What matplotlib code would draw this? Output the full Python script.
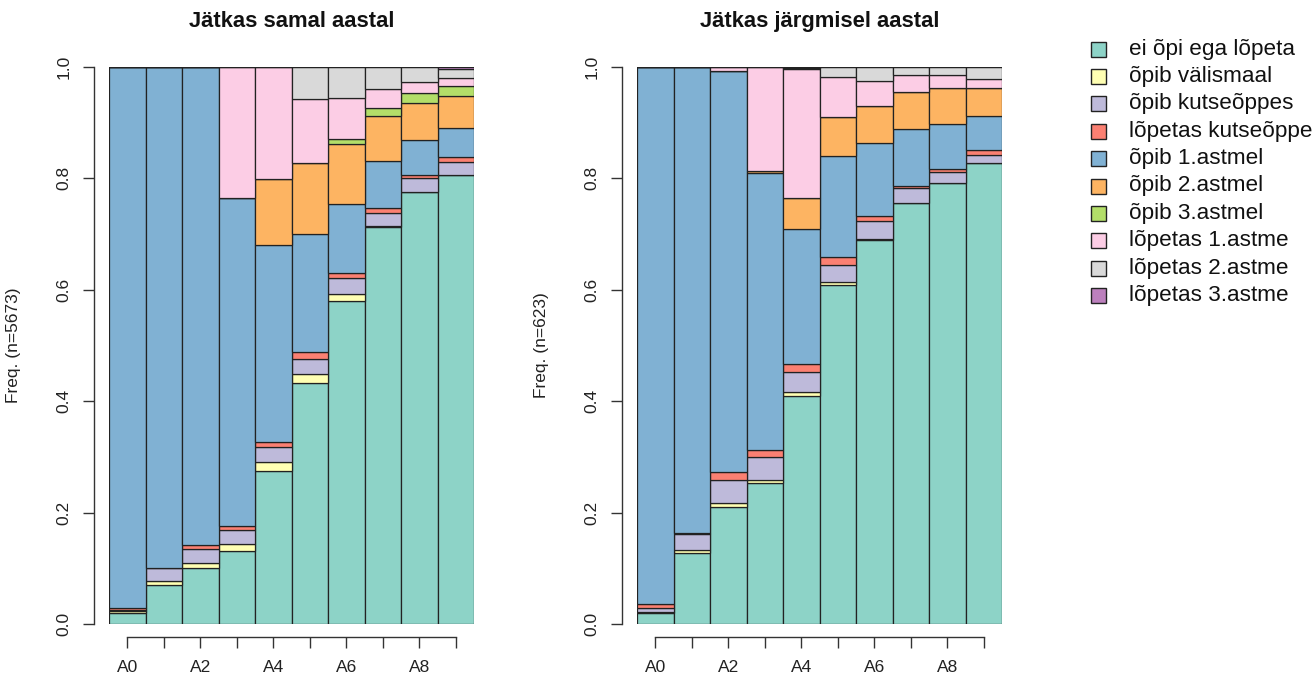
import matplotlib
matplotlib.use("Agg")
import matplotlib.pyplot as plt
from matplotlib.patches import Rectangle
import numpy as np

plt.rcParams['font.family'] = ['Liberation Sans', 'DejaVu Sans']

years = ["A0", "A1", "A2", "A3", "A4", "A5", "A6", "A7", "A8", "A9"]
shown_labels = ["A0", "", "A2", "", "A4", "", "A6", "", "A8", ""]
categories = ["ei õpi ega lõpeta", "õpib välismaal", "õpib kutseõppes",
              "lõpetas kutseõppe", "õpib 1.astmel", "õpib 2.astmel",
              "õpib 3.astmel", "lõpetas 1.astme", "lõpetas 2.astme",
              "lõpetas 3.astme"]
colors = ["#8DD3C7", "#FFFFB3", "#BEBADA", "#FB8072", "#80B1D3",
          "#FDB462", "#B3DE69", "#FCCDE5", "#D9D9D9", "#BC80BD"]

# Left panel: "Jätkas samal aastal" (n=5673)
same_teal   = [.020, .070, .100, .131, .275, .432, .579, .713, .776, .806]
same_yellow = [.003, .008, .009, .013, .015, .016, .014, .001, .000, .001]
same_purple = [.003, .022, .026, .024, .027, .028, .029, .023, .024, .023]
same_red    = [.002, .001, .006, .008, .009, .012, .009, .010, .006, .009]
same_blue   = [.972, .899, .859, .588, .354, .212, .123, .084, .063, .052]
same_orange = [0, 0, 0, 0, .119, .127, .107, .081, .067, .057]
same_green  = [0, 0, 0, 0, 0, 0, .010, .014, .017, .018]
same_pink   = [0, 0, 0, .236, .201, .115, .073, .034, .020, .014]
same_gray   = [0, 0, 0, 0, 0, .058, .056, .040, .027, .017]
same_violet = [0, 0, 0, 0, 0, 0, 0, 0, 0, .003]

# Right panel: "Jätkas järgmisel aastal" (n=623)
next_teal   = [.019, .127, .2095, .2526, .410, .609, .690, .755, .791, .828]
next_yellow = [.002, .006, .0085, .006, .007, .005, .001, .001, .001, 0]
next_purple = [.007, .029, .0405, .041, .036, .030, .0325, .026, .019, .0146]
next_red    = [.008, .002, .015, .012, .013, .015, .0095, .004, .006, .0084]
next_blue   = [.964, .836, .720, .498, .243, .182, .130, .103, .081, .061]
next_orange = [0, 0, 0, .003, .055, .069, .067, .0655, .0643, .0497]
next_green  = [0, 0, 0, 0, 0, 0, 0, 0, 0, 0]
next_pink   = [0, 0, .007, .1874, .232, .0717, .0455, .031, .0236, .0168]
next_gray   = [0, 0, 0, 0, .002, .0185, .0245, .0144, .0144, .0215]
next_violet = [0, 0, 0, 0, .002, 0, 0, 0, 0, 0]

same = [same_teal, same_yellow, same_purple, same_red, same_blue,
        same_orange, same_green, same_pink, same_gray, same_violet]
nxt = [next_teal, next_yellow, next_purple, next_red, next_blue,
       next_orange, next_green, next_pink, next_gray, next_violet]

W, H = 1315, 676
fig = plt.figure(figsize=(W / 100, H / 100), dpi=100)

FS = 12.5

def px_axes(x0, y0, x1, y1):
    return fig.add_axes([x0 / W, 1 - y1 / H, (x1 - x0) / W, (y1 - y0) / H])

def draw_panel(ax, series, title, ylabel):
    x = np.arange(len(years)) + 0.5
    bottom = np.zeros(len(years))
    for vals, col in zip(series, colors):
        v = np.array(vals, dtype=float)
        ax.bar(x, v, width=1.0, bottom=bottom, color=col,
               edgecolor="#222222", linewidth=0.9, zorder=2)
        bottom += v
    ax.set_xlim(0, len(years))
    ax.set_ylim(0, 1)
    for s in ["top", "right"]:
        ax.spines[s].set_visible(False)
    ax.spines["left"].set_position(("outward", 11))
    ax.spines["bottom"].set_position(("outward", 9))
    ax.spines["left"].set_bounds(0, 1)
    ax.spines["bottom"].set_bounds(x[0], x[-1])
    for s in ["left", "bottom"]:
        ax.spines[s].set_linewidth(1.0)
        ax.spines[s].set_color("#333333")
    ax.set_yticks([0, 0.2, 0.4, 0.6, 0.8, 1.0])
    ax.set_yticklabels(["0.0", "0.2", "0.4", "0.6", "0.8", "1.0"],
                       rotation=90, va="center", fontsize=FS, color="#222222")
    ax.set_xticks(x)
    ax.set_xticklabels(shown_labels, fontsize=FS, color="#222222")
    ax.tick_params(axis="y", length=8, width=1.0, color="#333333", pad=8)
    ax.tick_params(axis="x", length=8, width=1.0, color="#333333", pad=9)
    ax.set_ylabel(ylabel, fontsize=FS, color="#222222")
    ax.yaxis.set_label_coords(-0.242, 0.5)
    ax.text(0.5, 1.081, title, transform=ax.transAxes, ha="center",
            va="center", fontsize=15.8, fontweight="bold", color="#111111")

ax1 = px_axes(109, 67, 474, 624)
draw_panel(ax1, same, "Jätkas samal aastal", "Freq. (n=5673)")
ax2 = px_axes(637, 67, 1002, 624)
draw_panel(ax2, nxt, "Jätkas järgmisel aastal", "Freq. (n=623)")

# Legend drawn in figure pixel coordinates
leg_x = 1091
leg_y0 = 49
leg_dy = 27.4
sq = 15
for i, (lab, col) in enumerate(zip(categories, colors)):
    yc = leg_y0 + i * leg_dy
    fig.add_artist(Rectangle((leg_x / W, 1 - (yc + sq / 2) / H), sq / W, sq / H,
                             transform=fig.transFigure, facecolor=col,
                             edgecolor="#222222", linewidth=1.0))
    fig.text(1129 / W, 1 - yc / H, lab, ha="left", va="center",
             fontsize=16.2, color="#111111")

fig.savefig("out.png", dpi=100)
